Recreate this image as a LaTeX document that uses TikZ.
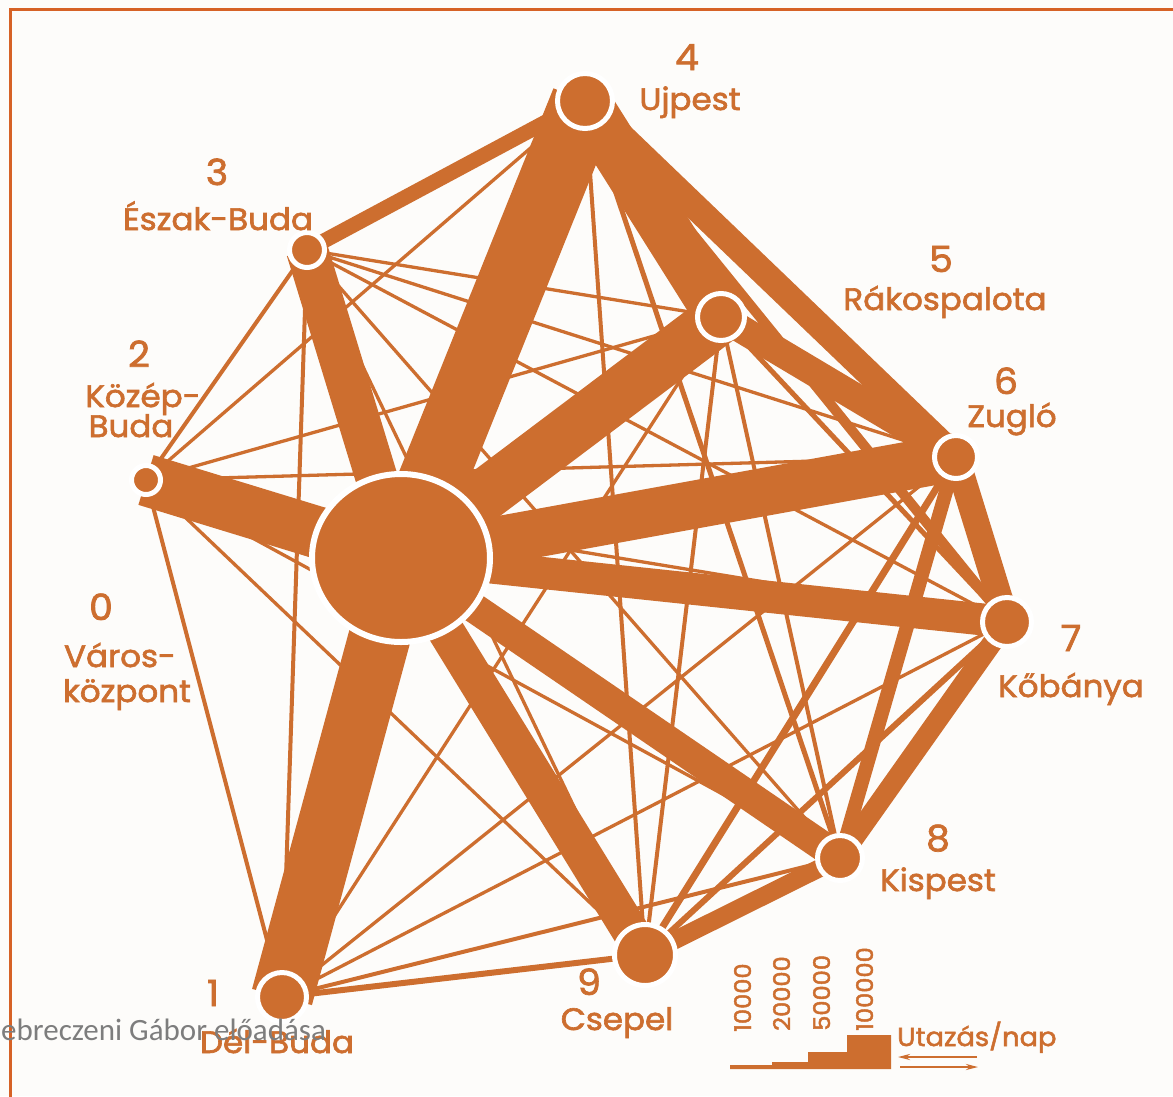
\documentclass[tikz,border=0pt]{standalone}
\usepackage{fontspec}
\setmainfont{Poppins}[FakeStretch=1.05,FakeBold=2]
\newfontfamily\notefont{Carlito}
\usetikzlibrary{arrows.meta,shapes.geometric}
\definecolor{ink}{RGB}{205,110,47}
\definecolor{frameclr}{RGB}{214,98,38}
\definecolor{paper}{RGB}{253,252,250}
\definecolor{notegrey}{RGB}{125,125,125}

\begin{document}
\begin{tikzpicture}[x=1pt,y=-1pt,
  district/.style={circle, fill=ink, draw=white, line width=5pt, inner sep=0pt, minimum size=#1},
  flow/.style={draw=ink, line width=#1, line cap=butt},
  distnum/.style={text=ink, font=\fontsize{36}{38}\selectfont, anchor=base, inner sep=0pt},
  distname/.style={text=ink, font=\fontsize{31}{34}\selectfont, anchor=base, inner sep=0pt},
  scalenum/.style={text=ink, font=\fontsize{23}{24}\selectfont, rotate=90, anchor=base west, inner sep=0pt},
]
% page and frame
\useasboundingbox (0,0) rectangle (1173,1096);
\fill[paper] (0,0) rectangle (1173,1096);
\draw[frameclr, line width=3pt] (10,9) rectangle (1190,1115);

% district positions
\coordinate (p0) at (401,558);
\coordinate (p1) at (282,997);
\coordinate (p2) at (146,480);
\coordinate (p3) at (307,250);
\coordinate (p4) at (585,101);
\coordinate (p5) at (721,317);
\coordinate (p6) at (956,457);
\coordinate (p7) at (1007,622);
\coordinate (p8) at (840,858);
\coordinate (p9) at (645,955);

% travel flows between districts (line width ~ trips per day)
\foreach \a/\b/\w in {
  0/1/62, 0/2/52, 0/3/42, 0/4/68, 0/5/52, 0/6/48, 0/7/32, 0/8/30, 0/9/37,
  4/5/50, 4/6/26, 5/6/28, 3/4/15, 6/7/26, 7/8/20, 8/9/18, 6/8/14,
  4/7/10, 6/9/7, 7/9/6, 1/9/6, 4/8/5, 5/7/5,
  1/2/4, 1/3/4, 1/8/4, 2/3/4, 4/9/4, 5/8/4, 5/9/4,
  1/4/3.3, 1/5/3.3, 1/6/3.3, 1/7/3.3,
  2/4/3.3, 2/5/3.3, 2/6/3.3, 2/7/3.3, 2/8/3.3, 2/9/3.3,
  3/5/3.3, 3/6/3.3, 3/7/3.3, 3/8/3.3, 3/9/3.3}
  \draw[flow=\w pt] (p\a) -- (p\b);

% district circles
\node[ellipse, fill=ink, draw=white, line width=6pt, inner sep=0pt,
      minimum width=178pt, minimum height=168pt] (n0) at (p0) {};
\node[district=49pt] (n1) at (p1) {};
\node[district=29pt] (n2) at (p2) {};
\node[district=35pt] (n3) at (p3) {};
\node[district=55pt] (n4) at (p4) {};
\node[district=47pt] (n5) at (p5) {};
\node[district=43pt] (n6) at (p6) {};
\node[district=49pt] (n7) at (p7) {};
\node[district=45pt] (n8) at (p8) {};
\node[district=61pt] (n9) at (p9) {};

% district labels
\node[distnum]  (d4) at (687,70) {4};
\node[distname] (t4) at (690,110) {Ujpest};
\node[distnum]  (d3) at (217,185) {3};
\node[distname] (t3) at (218,230) {Észak-Buda};
\node[distnum]  (d2) at (139,367) {2};
\node[distname] (t2a) at (143,407) {Közép-};
\node[distname] (t2b) at (131,437) {Buda};
\node[distnum]  (d0) at (101,620) {0};
\node[distname] (t0a) at (120,667) {Város-};
\node[distname] (t0b) at (127,702) {központ};
\node[distnum]  (d1) at (213,1006) {1};
\node[distname] (t1) at (277,1053) {Dél-Buda};
\node[distnum]  (d9) at (589,995) {9};
\node[distname] (t9) at (617,1030) {Csepel};
\node[distnum]  (d8) at (938,851) {8};
\node[distname] (t8) at (938,891) {Kispest};
\node[distnum]  (d7) at (1071,651) {7};
\node[distname] (t7) at (1071,697) {Kőbánya};
\node[distnum]  (d6) at (1006,394) {6};
\node[distname] (t6) at (1012,427) {Zugló};
\node[distnum]  (d5) at (941,272) {5};
\node[distname] (t5) at (945,310) {Rákospalota};

% scale of trips per day
\fill[ink] (730,1069) -- (730,1065) -- (772,1065) -- (772,1062) -- (808,1062)
  -- (808,1052) -- (847,1052) -- (847,1035) -- (891,1035) -- (891,1069) -- cycle;
\node[scalenum] (s1) at (751,1032) {10000};
\node[scalenum] (s2) at (790,1031) {20000};
\node[scalenum] (s3) at (830,1031) {50000};
\node[scalenum] (s4) at (873,1031) {100000};
\node[text=ink, font=\fontsize{26}{28}\selectfont, anchor=base west, inner sep=0pt]
  (unit) at (897,1046) {Utazás/nap};
\coordinate (aL1) at (977,1057);
\coordinate (aL2) at (898,1057);
\coordinate (aR1) at (900,1067);
\coordinate (aR2) at (978,1067);
\draw[ink, line width=2.5pt, -{Stealth[length=12pt,width=6pt]}] (aL1) -- (aL2);
\draw[ink, line width=2.5pt, -{Stealth[length=12pt,width=6pt]}] (aR1) -- (aR2);

% lecturer note
\node[text=notegrey, font=\notefont\fontsize{31}{32}\selectfont, anchor=base west, inner sep=0pt]
  (note) at (1,1040) {ebreczeni Gábor előadása};
\end{tikzpicture}
\end{document}
